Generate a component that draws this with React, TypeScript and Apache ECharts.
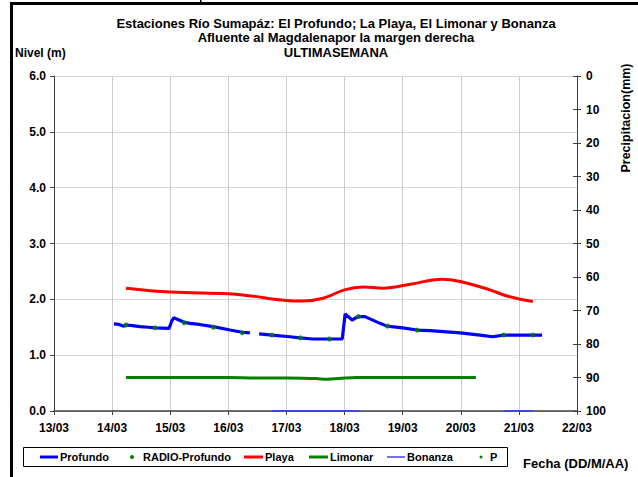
import React, { useEffect, useRef } from "react";
import * as echarts from "echarts";

// Days of March (fractional) and values
const titleLines = [
  "Estaciones Río Sumapáz: El Profundo; La Playa, El Limonar y Bonanza",
  "Afluente al Magdalenapor la margen derecha",
  "ULTIMASEMANA",
];

const profundoDays = [14.03, 14.12, 14.2, 14.24, 14.35, 14.48, 14.62, 14.74, 14.98, 15.03, 15.06, 15.13, 15.24, 15.34, 15.5, 15.74, 16.03, 16.24, 16.37, 16.45, 16.53, 16.75, 17.06, 17.23, 17.46, 17.75, 17.96, 18.01, 18.13, 18.23, 18.35, 18.61, 18.73, 19.0, 19.25, 19.47, 19.99, 20.33, 20.55, 20.73, 21.4];
const profundoLevels = [1.56, 1.55, 1.52, 1.54, 1.53, 1.51, 1.5, 1.49, 1.48, 1.62, 1.67, 1.64, 1.59, 1.57, 1.55, 1.51, 1.45, 1.41, 1.4, null, 1.38, 1.36, 1.33, 1.31, 1.29, 1.29, 1.29, 1.74, 1.63, 1.69, 1.69, 1.57, 1.52, 1.49, 1.45, 1.44, 1.4, 1.36, 1.33, 1.36, 1.36];

const radioDays = [14.24, 14.74, 15.24, 15.74, 16.24, 16.75, 17.24, 17.74, 18.24, 18.74, 19.25, 20.74, 21.24];
const radioLevels = [1.54, 1.49, 1.58, 1.5, 1.4, 1.36, 1.31, 1.29, 1.69, 1.52, 1.45, 1.36, 1.36];

const playaDays = [14.24, 15.0, 16.0, 16.32, 17.0, 17.28, 17.63, 18.0, 18.32, 18.66, 19.13, 19.68, 19.99, 20.5, 20.8, 21.24];
const playaLevels = [2.2, 2.13, 2.1, 2.07, 1.98, 1.97, 2.02, 2.17, 2.22, 2.2, 2.27, 2.36, 2.32, 2.17, 2.06, 1.96];

const limonarDays = [14.24, 15.0, 16.0, 16.5, 17.0, 17.5, 17.7, 17.9, 18.2, 19.0, 20.0, 20.26];
const limonarLevels = [0.6, 0.6, 0.6, 0.59, 0.59, 0.58, 0.57, 0.58, 0.6, 0.6, 0.6, 0.6];

const bonanzaDays = [16.75, 18.25, 18.5, 20.74, 21.24];
const bonanzaLevels = [0, 0, null, 0, 0];

const precipDays: number[] = [];
const precipValues: number[] = [];

const dayTicks = [13, 14, 15, 16, 17, 18, 19, 20, 21, 22];

const zip = (xs: number[], ys: (number | null)[]) => xs.map((x, i) => [x, ys[i] === null ? NaN : ys[i]]);

const FONT = '"Liberation Sans", Arial, sans-serif';

export default function App() {
  const ref = useRef<HTMLDivElement>(null);
  useEffect(() => {
    if (!ref.current) return;
    const chart = echarts.init(ref.current, null, { renderer: "svg" });
    const lbl = { fontFamily: FONT, fontWeight: "bold" as const, fontSize: 12, color: "#000" };
    const legendText = (x: number, text: string) => ({
      type: "text", x, y: 457,
      style: { text, fill: "#000", font: `bold 11px ${FONT}`, verticalAlign: "middle", align: "left" },
    });
    const legendLine = (x1: number, x2: number, color: string, w: number) => ({
      type: "line", shape: { x1, y1: 457, x2, y2: 457 }, style: { stroke: color, lineWidth: w },
    });
    chart.setOption({
      animation: false,
      backgroundColor: "#fff",
      textStyle: { fontFamily: FONT },
      title: {
        text: titleLines.join("\n"),
        left: 331,
        top: 11,
        textAlign: "center",
        textStyle: { ...lbl, fontSize: 13, lineHeight: 14.5 },
      },
      grid: { left: 54, right: 61, top: 76, bottom: 66, containLabel: false },
      xAxis: {
        type: "value",
        min: 13,
        max: 22,
        interval: 1,
        axisLine: { show: true, lineStyle: { color: "#404040", width: 1.5 } },
        axisTick: { show: true, length: 4, lineStyle: { color: "#404040" } },
        axisLabel: { ...lbl, margin: 11, formatter: (v: number) => `${v}/03`, customValues: dayTicks },
        splitLine: { show: true, lineStyle: { color: "#cccccc", width: 1 } },
      },
      yAxis: [
        {
          type: "value",
          min: 0,
          max: 6,
          interval: 1,
          position: "left",
          axisLine: { show: true, lineStyle: { color: "#404040", width: 1 } },
          axisTick: { show: true, length: 4, lineStyle: { color: "#404040" } },
          axisLabel: { ...lbl, margin: 8, formatter: (v: number) => v.toFixed(1) },
          splitLine: { show: true, lineStyle: { color: "#d4d4d4", width: 1 } },
        },
        {
          type: "value",
          min: 0,
          max: 100,
          interval: 10,
          inverse: true,
          position: "right",
          axisLine: { show: true, lineStyle: { color: "#404040", width: 1 } },
          axisTick: { show: true, length: 4, lineStyle: { color: "#404040" } },
          axisLabel: { ...lbl, margin: 9 },
          splitLine: { show: false },
        },
        {
          type: "value",
          min: 0,
          max: 100,
          interval: 10,
          inverse: true,
          position: "right",
          axisLine: { show: false },
          axisTick: { show: true, inside: true, length: 4, lineStyle: { color: "#404040" } },
          axisLabel: { show: false },
          splitLine: { show: false },
        },
      ],
      series: [
        {
          name: "Profundo", type: "line", data: zip(profundoDays, profundoLevels),
          showSymbol: false, symbol: "none", connectNulls: false,
          lineStyle: { color: "#0000ff", width: 3.2 }, z: 3,
        },
        {
          name: "RADIO-Profundo", type: "scatter", data: zip(radioDays, radioLevels),
          symbol: "circle", symbolSize: 5, itemStyle: { color: "#008000" }, z: 4,
        },
        {
          name: "Playa", type: "line", data: zip(playaDays, playaLevels), smooth: 0.4,
          showSymbol: false, symbol: "none", lineStyle: { color: "#ff0000", width: 3 }, z: 3,
        },
        {
          name: "Limonar", type: "line", data: zip(limonarDays, limonarLevels), smooth: 0.4,
          showSymbol: false, symbol: "none", lineStyle: { color: "#008000", width: 3 }, z: 3,
        },
        {
          name: "Bonanza", type: "line", data: zip(bonanzaDays, bonanzaLevels), connectNulls: false,
          showSymbol: false, symbol: "none", clip: false, lineStyle: { color: "#4444dd", width: 2 }, z: 5,
        },
        {
          name: "P", type: "scatter", yAxisIndex: 1, data: zip(precipDays, precipValues),
          symbolSize: 3, itemStyle: { color: "#008000" },
        },
      ],
      graphic: [
        { type: "rect", shape: { x: 10, y: 2, width: 628, height: 3 }, style: { fill: "#000" } },
        { type: "rect", shape: { x: 10, y: 2, width: 3, height: 475 }, style: { fill: "#000" } },
        { type: "rect", shape: { x: 200, y: 0, width: 1.5, height: 3 }, style: { fill: "#000" } },
        {
          type: "text", x: 15, y: 53,
          style: { text: "Nivel (m)", fill: "#000", font: `bold 12px ${FONT}`, verticalAlign: "middle", align: "left" },
        },
        {
          type: "text", x: 626, y: 118, rotation: Math.PI / 2,
          style: { text: "Precipitacion(mm)", fill: "#000", font: `bold 12.5px ${FONT}`, verticalAlign: "middle", align: "center" },
        },
        {
          type: "text", x: 523, y: 463,
          style: { text: "Fecha (DD/M/AA)", fill: "#000", font: `bold 13px ${FONT}`, verticalAlign: "middle", align: "left" },
        },
        {
          type: "rect", shape: { x: 23.5, y: 447.5, width: 484, height: 19 },
          style: { fill: "#fff", stroke: "#000", lineWidth: 1 },
        },
        legendLine(40, 58, "#0000ff", 3),
        legendText(60, "Profundo"),
        { type: "circle", shape: { cx: 132, cy: 457, r: 2 }, style: { fill: "#008000" } },
        legendText(143, "RADIO-Profundo"),
        legendLine(244, 263, "#ff0000", 3),
        legendText(265, "Playa"),
        legendLine(309, 328, "#008000", 3),
        legendText(330, "Limonar"),
        legendLine(387, 405, "#4444dd", 1.5),
        legendText(407, "Bonanza"),
        { type: "circle", shape: { cx: 481, cy: 457, r: 1.5 }, style: { fill: "#008000" } },
        legendText(490, "P"),
      ],
    });
    return () => chart.dispose();
  }, []);
  return <div ref={ref} style={{ position: "fixed", left: 0, top: 0, width: 638, height: 477, background: "#fff" }} />;
}
